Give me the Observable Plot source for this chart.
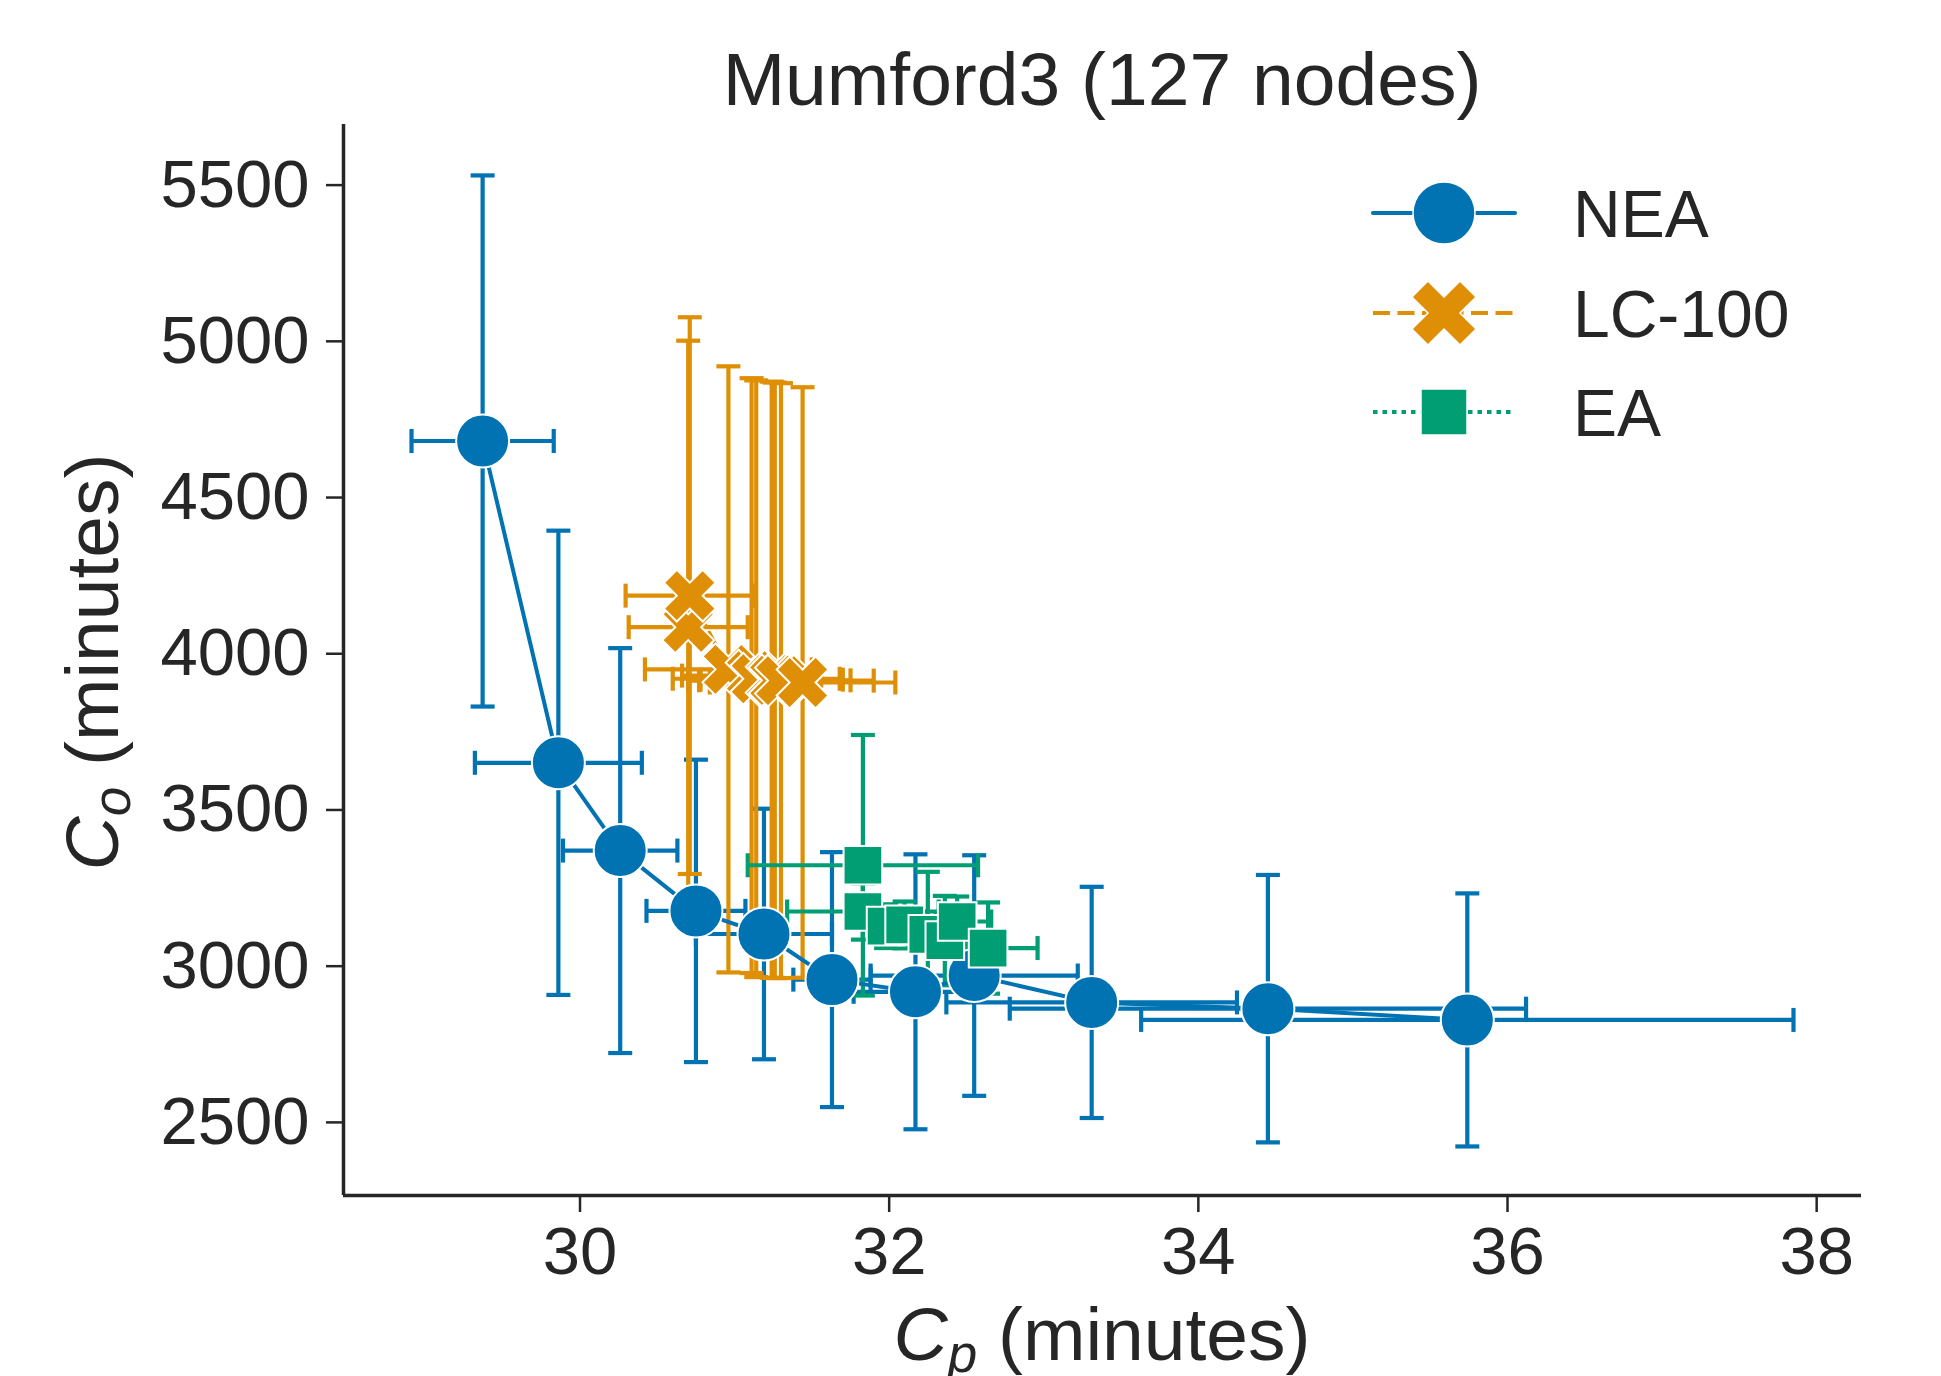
<!DOCTYPE html>
<html><head><meta charset="utf-8">
<script src="https://cdn.jsdelivr.net/npm/d3@7"></script>
<script src="https://cdn.jsdelivr.net/npm/@observablehq/plot@0.6"></script>
<style>
body{margin:0;background:#fff;}
#chart svg{display:block;}
</style></head><body><div id="chart"></div>
<script>
// ---- data ----
const seriesNames = ["NEA", "LC-100", "EA"];
const chartTitle = "Mumford3 (127 nodes)";
const xTicks = [30, 32, 34, 36, 38];
const yTicks = [2500, 3000, 3500, 4000, 4500, 5000, 5500];

const neaX    = [29.37, 29.86, 30.26, 30.75, 31.19, 31.63, 32.17, 32.55, 33.31, 34.45, 35.74];
const neaY    = [4681, 3651, 3370, 3177, 3103, 2957, 2918, 2970, 2884, 2864, 2828];
const neaXErr = [0.46, 0.54, 0.37, 0.32, 0.44, 0.25, 0.40, 0.67, 0.94, 1.67, 2.11];
const neaYErr = [850, 743, 648, 484, 401, 408, 440, 385, 370, 428, 405];

const lcX     = [30.70, 30.71, 30.96, 31.11, 31.14, 31.24, 31.26, 31.30, 31.44];
const lcY     = [4085, 4186, 3950, 3930, 3920, 3917, 3915, 3914, 3908];
const lcXErr  = [0.385, 0.415, 0.54, 0.45, 0.54, 0.46, 0.49, 0.60, 0.60];
const lcYErr  = [917, 891, 970, 952, 955, 954, 953, 952, 945];

const eaX     = [31.83, 31.83, 31.98, 32.10, 32.25, 32.36, 32.44, 32.64];
const eaY     = [3323, 3175, 3128, 3132, 3102, 3082, 3143, 3058];
const eaXErr  = [0.745, 0.49, 0.15, 0.20, 0.25, 0.20, 0.22, 0.32];
const eaYErr  = [417, 90, 70, 75, 200, 143, 80, 146];

// ---- layout / style ----
const W = 1941, H = 1376;
const mL = 343, mR = 80, mT = 124, mB = 181;
const xDomain = [28.47, 38.29], yDomain = [2266, 5694];
const colors = ["#0173b2", "#de8f05", "#029e73"];
const ink = "#262626";
const font = "'Liberation Sans', Arial, Helvetica, sans-serif";

const rows = (xs, ys, exs, eys) => xs.map((x, i) => ({x, y: ys[i], ex: exs[i], ey: eys[i]}));
const nea = rows(neaX, neaY, neaXErr, neaYErr);
const lc = rows(lcX, lcY, lcXErr, lcYErr);
const ea = rows(eaX, eaY, eaXErr, eaYErr);

// custom symbols
const hcap = {draw(ctx, size) { const r = Math.sqrt(size / Math.PI); ctx.moveTo(-r, 0); ctx.lineTo(r, 0); }};
const vcap = {draw(ctx, size) { const r = Math.sqrt(size / Math.PI); ctx.moveTo(0, -r); ctx.lineTo(0, r); }};
const xFilled = {draw(ctx, size) {
  const a = Math.sqrt(size / Math.PI), h = a / 3, c = Math.SQRT1_2;
  const pts = [[h,-a],[h,-h],[a,-h],[a,h],[h,h],[h,a],[-h,a],[-h,h],[-a,h],[-a,-h],[-h,-h],[-h,-a]];
  pts.forEach(([x, y], i) => { const X = (x - y) * c, Y = (x + y) * c; i ? ctx.lineTo(X, Y) : ctx.moveTo(X, Y); });
  ctx.closePath();
}};

const ebW = 4.2, capR = 12;
function errMarks(data, color) {
  const o = {stroke: color, strokeWidth: ebW};
  return [
    Plot.ruleX(data, {x: "x", y1: d => d.y - d.ey, y2: d => d.y + d.ey, ...o}),
    Plot.ruleY(data, {y: "y", x1: d => d.x - d.ex, x2: d => d.x + d.ex, ...o}),
    Plot.dot(data, {x: "x", y: d => d.y + d.ey, symbol: hcap, r: capR, fill: "none", ...o}),
    Plot.dot(data, {x: "x", y: d => d.y - d.ey, symbol: hcap, r: capR, fill: "none", ...o}),
    Plot.dot(data, {x: d => d.x - d.ex, y: "y", symbol: vcap, r: capR, fill: "none", ...o}),
    Plot.dot(data, {x: d => d.x + d.ex, y: "y", symbol: vcap, r: capR, fill: "none", ...o})
  ];
}

const chart = Plot.plot({
  width: W, height: H,
  marginLeft: mL, marginRight: mR, marginTop: mT, marginBottom: mB,
  style: {fontFamily: font, background: "white", color: ink},
  x: {domain: xDomain},
  y: {domain: yDomain},
  marks: [
    ...errMarks(nea, colors[0]),
    ...errMarks(lc, colors[1]),
    ...errMarks(ea, colors[2]),
    Plot.line(nea, {x: "x", y: "y", stroke: colors[0], strokeWidth: 4}),
    Plot.dot(nea, {x: "x", y: "y", r: 26.5, fill: colors[0], stroke: "white", strokeWidth: 2}),
    Plot.line(lc, {x: "x", y: "y", stroke: colors[1], strokeWidth: 4, strokeDasharray: "17,7.5"}),
    Plot.dot(lc, {x: "x", y: "y", symbol: xFilled, r: 27.5, fill: colors[1], stroke: "white", strokeWidth: 2}),
    Plot.line(ea, {x: "x", y: "y", stroke: colors[2], strokeWidth: 4, strokeDasharray: "4.5,5"}),
    Plot.dot(ea, {x: "x", y: "y", symbol: "square", r: 21.8, fill: colors[2], stroke: "white", strokeWidth: 2}),
    Plot.ruleX([xDomain[0]], {stroke: ink, strokeWidth: 3.5}),
    Plot.ruleY([yDomain[0]], {stroke: ink, strokeWidth: 3.5}),
    Plot.axisX({ticks: xTicks, tickSize: 17, tickPadding: 14, fontSize: 67, label: null, color: ink, strokeWidth: 2.5, tickFormat: d => String(d)}),
    Plot.axisY({ticks: yTicks, tickSize: 17, tickPadding: 17, fontSize: 67, label: null, color: ink, strokeWidth: 2.5, tickFormat: d => String(d)})
  ]
});
document.getElementById("chart").appendChild(chart);

// ---- title, axis labels, legend ----
const svg = d3.select(chart);
const cx = (mL + (W - mR)) / 2;
svg.append("text").attr("x", cx).attr("y", 105).attr("text-anchor", "middle")
  .attr("font-size", 75).attr("fill", ink).attr("font-family", font).text(chartTitle);

const xl = svg.append("text").attr("x", cx).attr("y", 1360).attr("text-anchor", "middle")
  .attr("font-size", 75).attr("fill", ink).attr("font-family", font);
xl.append("tspan").attr("font-style", "italic").text("C");
xl.append("tspan").attr("font-style", "italic").attr("font-size", 53).attr("dy", 12).text("p");
xl.append("tspan").attr("dy", -12).text(" (minutes)");

const yl = svg.append("text").attr("transform", "translate(118,662) rotate(-90)").attr("text-anchor", "middle")
  .attr("font-size", 75).attr("fill", ink).attr("font-family", font);
yl.append("tspan").attr("font-style", "italic").text("C");
yl.append("tspan").attr("font-style", "italic").attr("font-size", 53).attr("dy", 12).text("o");
yl.append("tspan").attr("dy", -12).text(" (minutes)");

const legY = [213, 313, 412];
const legSyms = [
  {sym: d3.symbolCircle, size: Math.PI * 31 * 31},
  {sym: xFilled, size: Math.PI * 34 * 34},
  {sym: d3.symbolSquare, size: 46 * 46}
];
const dashes = [null, "17,7.5", "4.5,5"];
seriesNames.forEach((name, i) => {
  const g = svg.append("g").attr("transform", `translate(0,${legY[i]})`);
  g.append("line").attr("x1", 1373).attr("x2", 1515).attr("y1", 0).attr("y2", 0)
    .attr("stroke", colors[i]).attr("stroke-width", 4)
    .attr("stroke-linecap", i === 0 ? "round" : "butt")
    .attr("stroke-dasharray", dashes[i]);
  g.append("path").attr("transform", "translate(1444,0)")
    .attr("d", d3.symbol(legSyms[i].sym, legSyms[i].size)())
    .attr("fill", colors[i]).attr("stroke", "white").attr("stroke-width", 1.5);
  g.append("text").attr("x", 1573).attr("y", 24).attr("font-size", 66)
    .attr("text-anchor", "start")
    .attr("fill", ink).attr("font-family", font).text(name);
});
</script></body></html>
